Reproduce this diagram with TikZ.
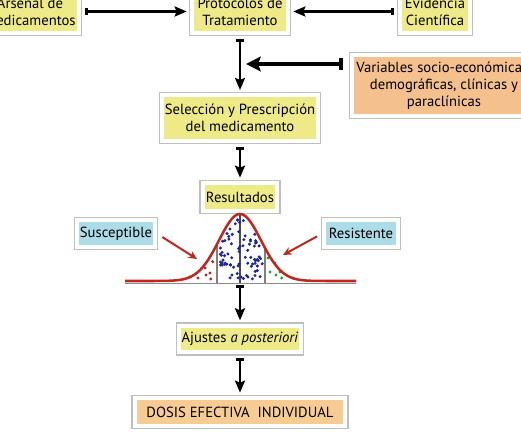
\documentclass[tikz,border=0pt]{standalone}
\usepackage{fontspec}
\setmainfont{PT Sans}
\usetikzlibrary{arrows.meta}
\definecolor{boxyellow}{RGB}{238,234,135}
\definecolor{boxorange}{RGB}{244,192,142}
\definecolor{boxpeach}{RGB}{246,204,146}
\definecolor{boxblue}{RGB}{172,220,232}
\definecolor{curvered}{RGB}{190,40,30}
\definecolor{dotblue}{RGB}{30,40,150}
\definecolor{dotred}{RGB}{200,30,30}
\definecolor{dotgreen}{RGB}{30,160,50}
\begin{document}
\begin{tikzpicture}[x=0.75pt, y=-0.75pt,
    box/.style={draw=white, line width=3pt, preaction={draw=black!25, line width=4.8pt},
        align=center, inner sep=2pt, font=\fontsize{11}{12.8}\selectfont},
    yellowbox/.style={box, fill=boxyellow},
    orangebox/.style={box, fill=boxorange},
    peachbox/.style={box, fill=boxpeach},
    bluebox/.style={box, fill=boxblue},
    flow/.style={line width=1.9pt, {Bar[width=5.5pt, line width=2.2pt]}-{Stealth[length=9pt, width=7.5pt, inset=1.5pt]},
        shorten <=3pt, shorten >=2.5pt},
    pointer/.style={curvered, line width=1.5pt, -{Stealth[length=6.5pt, width=6pt]}}
]
    \useasboundingbox (0,0) rectangle (521,438);

    % Top row
    \node[yellowbox, minimum width=73pt, minimum height=32pt] (arsenal) at (30,11.5) {Arsenal de\\medicamentos};
    \node[yellowbox, minimum width=72pt, minimum height=32pt] (proto) at (240,11.5) {Protocolos de\\Tratamiento};
    \node[yellowbox, minimum width=52.5pt, minimum height=32pt] (evid) at (435,11.5) {Evidencia\\Científica};

    % Side variables
    \node[orangebox, minimum width=138pt, minimum height=46pt] (vars) at (444,85.5)
        {Variables socio-económicas,\\demográficas, clínicas y\\paraclínicas};

    % Main column
    \node[yellowbox, minimum width=115pt, minimum height=34pt] (selec) at (240,118) {Selección y Prescripción\\del medicamento};
    \node[yellowbox, minimum width=56pt, minimum height=21pt] (result) at (240,197) {Resultados};
    \node[yellowbox, minimum width=91.5pt, minimum height=20pt] (ajuste) at (240,339) {Ajustes \textit{a posteriori}};
    \node[peachbox, minimum width=158pt, minimum height=21pt] (dosis) at (240,412) {DOSIS EFECTIVA~ INDIVIDUAL};

    % Tail labels
    \node[bluebox, minimum width=58pt, minimum height=20pt] (suscep) at (116,233.5) {Susceptible};
    \node[bluebox, minimum width=55pt, minimum height=20pt] (resist) at (361,233.5) {Resistente};

    % Bell curve with its split lines
    \draw[black!45, line width=1pt] (125,283.5) -- (356,283.5);
    \draw[black!50, line width=0.9pt] (217,283) -- (217,{281-67*exp(-(23^2)/882)});
    \draw[black!50, line width=0.9pt] (265,283) -- (265,{281-67*exp(-(25^2)/882)});
    \draw[black!70, line width=0.9pt] (240,283) -- (240,214);

    % Dots under the curve
    \pgfmathsetseed{23}
    \foreach \i in {1,...,78} {
        \pgfmathsetmacro\dx{220+rnd*43}
        \pgfmathsetmacro\dh{67*exp(-((\dx-240)^2)/882)}
        \pgfmathsetmacro\dy{279-rnd*(\dh-7)}
        \fill[dotblue] (\dx,\dy) circle (1.25pt);
    }
    \foreach \px/\py in {212.7/261.7, 205/268, 210/273, 206/275, 198/278, 190/277, 210.7/279}
        \fill[dotred] (\px,\py) circle (1.25pt);
    \foreach \px/\py in {268/258, 275/263, 270/272, 280/272, 281.7/278, 293/278, 276/275}
        \fill[dotgreen] (\px,\py) circle (1.25pt);

    \draw[curvered, line width=1.9pt] plot[domain=125:356, samples=120, smooth]
        (\x, {281-67*exp(-((\x-240)^2)/882)});

    % Connectors
    \coordinate (varsend) at (246,64);
    \coordinate (bellfoot) at (240,283);
    \coordinate (susctip) at (197,259);
    \coordinate (resisttip) at (283,255);

    \draw[flow] (arsenal) -- (proto);
    \draw[flow] (evid) -- (proto);
    \draw[flow] (proto) -- (selec);
    \draw[flow, line width=3pt, {Bar[width=9pt, line width=3.5pt]}-{Stealth[length=11pt, width=11pt, inset=2pt]}, shorten <=5pt, shorten >=0pt]
        (varsend -| vars.west) -- (varsend);
    \draw[flow] (selec) -- (result);
    \draw[flow, shorten <=1.5pt] (bellfoot) -- (ajuste);
    \draw[flow] (ajuste) -- (dosis);

    \draw[pointer, shorten <=5pt] (suscep.east) -- (susctip);
    \draw[pointer, shorten <=4.5pt] (resist.west) -- (resisttip);
\end{tikzpicture}
\end{document}
